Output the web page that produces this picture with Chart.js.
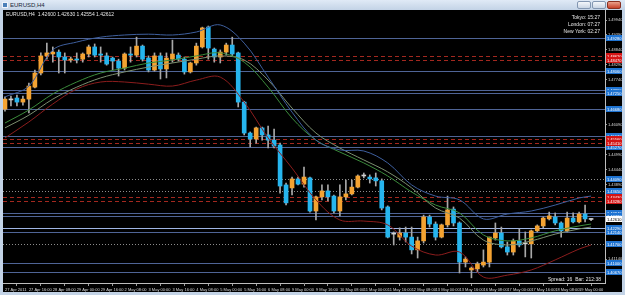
<!DOCTYPE html>
<html>
<head>
<meta charset="utf-8">
<title>EURUSD,H4</title>
<script src="https://cdn.jsdelivr.net/npm/chart.js@4.4.1/dist/chart.umd.min.js"></script>
<style>
  html, body { margin: 0; padding: 0; }
  body { width: 625px; height: 295px; background: #c3d3e6; position: relative; overflow: hidden; font-family: "Liberation Sans", Arial, sans-serif; }
  #titlebar { position: absolute; left: 0; top: 0; width: 625px; height: 10px; background: linear-gradient(#e0eaf6, #c3d3e6); }
  #icon { position: absolute; left: 2px; top: 2px; width: 6px; height: 6px; background: #4a7fb8; border: 1px solid #eef3fa; box-sizing: border-box; }
  #title { position: absolute; left: 10px; top: 1px; font-size: 6px; line-height: 8px; color: #1b2838; }
  .btn { position: absolute; top: 1px; height: 8px; width: 14px; border: 1px solid #8397b2; border-radius: 2px; box-sizing: border-box; background: linear-gradient(#f4f7fb, #c9d5e4); }
  #close { background: linear-gradient(#eaa18c, #c7412a); border-color: #8a3020; }
  #chartbox { position: absolute; left: 3px; top: 10px; width: 619px; height: 282px; background: #000; }
  #chartbox canvas { position: absolute; left: 0; top: 0; }
  .info { position: absolute; color: #e6e6e6; font-size: 5px; line-height: 7px; white-space: nowrap; }
</style>
</head>
<body>
<div id="titlebar">
  <div id="icon"></div>
  <div id="title">EURUSD,H4</div>
  <div class="btn" style="left:577px"></div>
  <div class="btn" style="left:592px"></div>
  <div class="btn" id="close" style="left:607px"></div>
</div>
<div id="chartbox">
  <canvas id="stockChart" width="619" height="282"></canvas>
  <div class="info" style="left:3px; top:1px;">EURUSD,H4&nbsp; 1.42600 1.42630 1.42554 1.42612</div>
  <div class="info" style="right:22px; top:4px; text-align:right;">Tokyo: 15:27<br>London: 07:27<br>New York: 02:27</div>
  <div class="info" style="right:21px; top:266px;">Spread: 16&nbsp; Bar: 212:38</div>
</div>
<script>
// H4 candles, 27 Apr 2011 00:00 -> 19 May 2011 08:00
const opens = [1.4666,1.4700,1.4707,1.4692,1.4703,1.4747,1.4799,1.4862,1.4869,1.4876,
  1.4858,1.4847,1.4850,1.4850,1.4869,1.4895,1.4869,1.4862,1.4854,1.4843,
  1.4817,1.4869,1.4865,1.4898,1.4854,1.4810,1.4862,1.4814,1.4850,1.4865,
  1.4850,1.4803,1.4836,1.4895,1.4968,1.4887,1.4858,1.4876,1.4902,1.4873,
  1.4692,1.4578,1.4556,1.4597,1.4571,1.4552,1.4534,1.4387,1.4376,1.4409,
  1.4390,1.4413,1.4291,1.4343,1.4365,1.4346,1.4291,1.4343,1.4354,1.4379,
  1.4420,1.4416,1.4413,1.4402,1.4306,1.4206,1.4195,1.4210,1.4195,1.4148,
  1.4181,1.4269,1.4243,1.4195,1.4240,1.4298,1.4247,1.4103,1.4074,1.4078,
  1.4092,1.4103,1.4192,1.4210,1.4159,1.4140,1.4181,1.4170,1.4170,1.4218,
  1.4236,1.4262,1.4269,1.4247,1.4218,1.4265,1.4251,1.4280,1.4260]
const highs = [1.4711,1.4714,1.4718,1.4714,1.4762,1.4810,1.4873,1.4909,1.4895,1.4884,
  1.4873,1.4858,1.4873,1.4873,1.4902,1.4906,1.4895,1.4873,1.4858,1.4850,
  1.4873,1.4895,1.4931,1.4902,1.4862,1.4873,1.4873,1.4873,1.4920,1.4873,
  1.4858,1.4839,1.4909,1.4968,1.4972,1.4891,1.4884,1.4909,1.4931,1.4876,
  1.4695,1.4582,1.4600,1.4600,1.4604,1.4593,1.4541,1.4394,1.4416,1.4416,
  1.4453,1.4416,1.4346,1.4387,1.4387,1.4350,1.4387,1.4405,1.4405,1.4424,
  1.4431,1.4424,1.4431,1.4409,1.4310,1.4214,1.4229,1.4232,1.4232,1.4195,
  1.4276,1.4276,1.4251,1.4243,1.4346,1.4306,1.4251,1.4122,1.4085,1.4103,
  1.4148,1.4195,1.4247,1.4232,1.4177,1.4188,1.4225,1.4214,1.4221,1.4240,
  1.4269,1.4287,1.4284,1.4251,1.4287,1.4284,1.4287,1.4313,1.4263]
const lows = [1.4659,1.4678,1.4678,1.4681,1.4652,1.4744,1.4792,1.4850,1.4839,1.4799,
  1.4799,1.4839,1.4836,1.4839,1.4858,1.4858,1.4839,1.4828,1.4810,1.4788,
  1.4810,1.4839,1.4858,1.4843,1.4803,1.4806,1.4777,1.4781,1.4839,1.4843,
  1.4795,1.4799,1.4828,1.4891,1.4850,1.4839,1.4836,1.4865,1.4862,1.4674,
  1.4571,1.4527,1.4541,1.4552,1.4523,1.4523,1.4357,1.4313,1.4350,1.4387,
  1.4379,1.4287,1.4258,1.4332,1.4328,1.4284,1.4273,1.4332,1.4350,1.4376,
  1.4413,1.4394,1.4383,1.4295,1.4192,1.4166,1.4184,1.4177,1.4133,1.4118,
  1.4173,1.4232,1.4184,1.4192,1.4232,1.4236,1.4063,1.4085,1.4045,1.4067,
  1.4085,1.4085,1.4184,1.4155,1.4129,1.4129,1.4159,1.4122,1.4118,1.4214,
  1.4229,1.4258,1.4240,1.4195,1.4214,1.4247,1.4247,1.4251,1.4255]
const closes = [1.4703,1.4700,1.4692,1.4703,1.4751,1.4799,1.4862,1.4873,1.4876,1.4858,
  1.4847,1.4850,1.4847,1.4869,1.4895,1.4865,1.4865,1.4832,1.4843,1.4817,
  1.4869,1.4865,1.4898,1.4850,1.4810,1.4862,1.4814,1.4854,1.4869,1.4850,
  1.4803,1.4836,1.4898,1.4965,1.4891,1.4858,1.4876,1.4902,1.4869,1.4692,
  1.4578,1.4556,1.4597,1.4571,1.4552,1.4530,1.4383,1.4321,1.4409,1.4390,
  1.4416,1.4291,1.4343,1.4365,1.4343,1.4291,1.4343,1.4354,1.4379,1.4420,
  1.4420,1.4409,1.4402,1.4302,1.4195,1.4206,1.4210,1.4195,1.4148,1.4181,
  1.4269,1.4243,1.4195,1.4240,1.4295,1.4247,1.4103,1.4114,1.4081,1.4096,
  1.4103,1.4195,1.4210,1.4159,1.4140,1.4181,1.4166,1.4170,1.4218,1.4236,
  1.4265,1.4273,1.4247,1.4218,1.4265,1.4251,1.4280,1.4262,1.4261]

// indicator lines, read every 4th bar
const maBars = [0,4,8,12,16,20,24,28,32,36,40,44,48,52,56,60,64,68,72,76,80,84,88,92,96,98]
const upperLine = [1.4711,1.4751,1.4884,1.4913,1.4931,1.4939,1.4942,1.4939,1.4950,1.4976,1.4909,1.4784,1.4655,
  1.4552,1.4516,1.4512,1.4468,1.4387,1.4346,1.4332,1.4262,1.4280,1.4291,1.4313,1.4339,1.4346]
const fastMa = [1.4615,1.4663,1.4722,1.4766,1.4799,1.4817,1.4836,1.4847,1.4862,1.4873,1.4839,1.4747,1.4633,
  1.4552,1.4508,1.4468,1.4420,1.4361,1.4313,1.4284,1.4203,1.4181,1.4192,1.4218,1.4236,1.4243]
const slowMa = [1.4597,1.4644,1.4703,1.4747,1.4781,1.4803,1.4821,1.4836,1.4850,1.4862,1.4847,1.4773,1.4670,
  1.4578,1.4523,1.4479,1.4435,1.4376,1.4302,1.4265,1.4184,1.4166,1.4181,1.4206,1.4225,1.4232]
const lowerLine = [1.4560,1.4619,1.4685,1.4740,1.4766,1.4766,1.4758,1.4751,1.4773,1.4784,1.4692,1.4560,1.4449,
  1.4332,1.4258,1.4254,1.4240,1.4162,1.4129,1.4140,1.4048,1.4055,1.4074,1.4111,1.4151,1.4166]

// drawn levels
const solidLevels = [1.4928, 1.4806, 1.4736, 1.4725, 1.4668, 1.4567, 1.4527, 1.4284, 1.4273, 1.4214, 1.4100, 1.4067]
const brightLevels = [1.4229]
const dashedLevels = [1.4862, 1.4847, 1.4556, 1.4541, 1.4343, 1.4328]
const dottedLevels = [1.4409, 1.4365, 1.4170]

const priceTicks = [1.4994, 1.4939, 1.4884, 1.4829, 1.4774, 1.4719, 1.4664, 1.4609, 1.4554, 1.4499,
  1.4444, 1.4389, 1.4334, 1.4279, 1.4224, 1.4169, 1.4114, 1.4059]
const timeLabels = ['27 Apr 2011','27 Apr 16:00','28 Apr 08:00','29 Apr 00:00','29 Apr 16:00','2 May 08:00',
  '3 May 00:00','3 May 16:00','4 May 08:00','5 May 00:00','5 May 16:00','6 May 08:00','9 May 00:00',
  '9 May 16:00','10 May 08:00','11 May 00:00','11 May 16:00','12 May 08:00','13 May 00:00','13 May 16:00',
  '16 May 08:00','17 May 00:00','17 May 16:00','18 May 08:00','19 May 00:00']

const upColor = '#f4a332'
const downColor = '#26b5ee'
const dojiColor = '#d0d0d0'
const wickColor = '#a8a8a8'
const tinyFont = { size: 4, family: 'Liberation Sans' }

const bars = closes.map((c, i) => i)
const candleColor = (i) => {
  const d = closes[i] - opens[i]
  if (Math.abs(d) < 0.00015) return dojiColor
  return d > 0 ? upColor : downColor
}
const maLine = (values, color) => ({
  type: 'line',
  data: maBars.map((b, k) => ({ x: b, y: values[k] })),
  borderColor: color,
  borderWidth: 1,
  pointRadius: 0,
  tension: 0.35,
  order: 0
})

//levels behind the candles, their price boxes on the right axis
const levelLines = {
  id: 'levelLines',
  beforeDatasetsDraw(chart) {
    const { ctx, chartArea: a, scales: { y } } = chart
    const hline = (v, color, dash) => {
      const py = Math.round(y.getPixelForValue(v)) + 0.5
      ctx.strokeStyle = color
      ctx.setLineDash(dash)
      ctx.beginPath()
      ctx.moveTo(a.left, py)
      ctx.lineTo(a.right, py)
      ctx.stroke()
    }
    ctx.save()
    ctx.lineWidth = 1
    solidLevels.forEach(v => hline(v, '#4f6496', []))
    brightLevels.forEach(v => hline(v, '#9fb5e4', []))
    dashedLevels.forEach(v => hline(v, '#a3281f', [4, 3]))
    dottedLevels.forEach(v => hline(v, '#8c8c8c', [1, 2]))
    ctx.restore()
  },
  afterDraw(chart) {
    const { ctx, chartArea: a, scales: { y } } = chart
    const box = (v, fill, textColor) => {
      const py = Math.round(y.getPixelForValue(v))
      ctx.fillStyle = fill
      ctx.fillRect(a.right + 1, py - 3, 16, 6)
      ctx.fillStyle = textColor
      ctx.fillText(v.toFixed(5), a.right + 2, py + 0.5)
    }
    ctx.save()
    ctx.font = '4px "Liberation Sans"'
    ctx.textBaseline = 'middle'
    solidLevels.concat(brightLevels, dottedLevels).forEach(v => box(v, '#1f74d2', '#ffffff'))
    dashedLevels.forEach(v => box(v, '#d41414', '#ffffff'))
    box(closes[closes.length - 1], '#ffffff', '#000000')
    ctx.restore()
  }
}

const ctx = document.getElementById('stockChart')
const chart = new Chart(ctx, {
  type: 'bar',
  data: {
    datasets: [
      maLine(upperLine, '#3e5f9e'),
      maLine(fastMa, '#3c8c3c'),
      maLine(slowMa, '#7c8f70'),
      maLine(lowerLine, '#8c1d1d'),
      {
        label: 'body',
        data: bars.map(i => ({ x: i, y: [opens[i], closes[i]] })),
        backgroundColor: bars.map(candleColor),
        barThickness: 4,
        minBarLength: 1,
        grouped: false,
        order: 1
      },
      {
        label: 'wick',
        data: bars.map(i => ({ x: i, y: [lows[i], highs[i]] })),
        backgroundColor: wickColor,
        barThickness: 1,
        grouped: false,
        order: 2
      }
    ]
  },
  options: {
    responsive: false,
    animation: false,
    devicePixelRatio: 1,
    layout: { padding: 0 },
    plugins: { legend: { display: false }, tooltip: { enabled: false } },
    scales: {
      x: {
        type: 'linear',
        min: -0.33,
        max: 100.33,
        offset: false,
        grid: { display: true, drawOnChartArea: false, tickLength: 3, color: '#9a9a9a' },
        border: { display: true, color: '#bdbdbd' },
        ticks: {
          color: '#d8d8d8', font: tinyFont, padding: 1, align: 'start',
          maxRotation: 0, autoSkip: false,
          callback: (v) => timeLabels[Math.round(v / 4)]
        },
        afterBuildTicks: (s) => { s.ticks = timeLabels.map((t, k) => ({ value: k * 4 })) },
        afterFit: (s) => { s.height = 9; s.paddingLeft = 0; s.paddingRight = 0 }
      },
      y: {
        position: 'right',
        min: 1.4026,
        max: 1.5031,
        grid: { display: true, drawOnChartArea: false, tickLength: 2, color: '#9a9a9a' },
        border: { display: true, color: '#bdbdbd' },
        ticks: { color: '#d8d8d8', font: tinyFont, padding: 1, callback: (v) => v.toFixed(5) },
        afterBuildTicks: (s) => { s.ticks = priceTicks.map(v => ({ value: v })) },
        afterFit: (s) => { s.width = 17; s.paddingTop = 0; s.paddingBottom = 0 }
      }
    }
  },
  plugins: [levelLines]
})
</script>
</body>
</html>
